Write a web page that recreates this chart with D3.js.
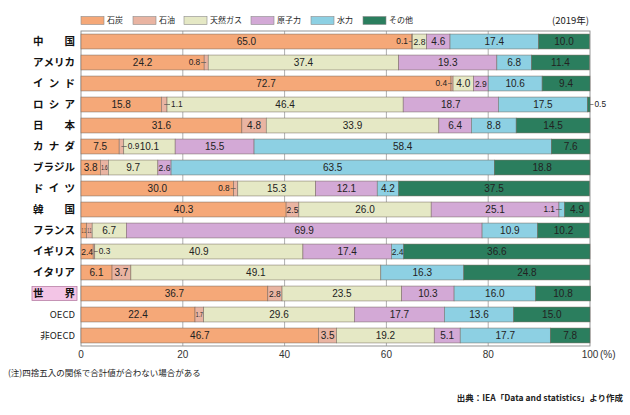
<!DOCTYPE html>
<html><head><meta charset="utf-8">
<script src="https://cdn.jsdelivr.net/npm/d3@7"></script>
<style>
html,body{margin:0;padding:0;background:#fff;}
svg{display:block;}
</style></head>
<body>
<svg id="chart" width="630" height="415"></svg>
<script>
const categories = ["中国","アメリカ","インド","ロシア","日本","カナダ","ブラジル","ドイツ","韓国","フランス","イギリス","イタリア","世界","OECD","非OECD"];
const seriesNames = ["石炭","石油","天然ガス","原子力","水力","その他"];
const coal    = [65.0, 24.2, 72.7, 15.8, 31.6,  7.5,  3.8, 30.0, 40.3,  1.1,  2.4,  6.1, 36.7, 22.4, 46.7];
const oil     = [ 0.1,  0.8,  0.4,  1.1,  4.8,  0.9,  1.6,  0.8,  2.5,  1.1,  0.3,  3.7,  2.8,  1.7,  3.5];
const gas     = [ 2.8, 37.4,  4.0, 46.4, 33.9, 10.1,  9.7, 15.3, 26.0,  6.7, 40.9, 49.1, 23.5, 29.6, 19.2];
const nuclear = [ 4.6, 19.3,  2.9, 18.7,  6.4, 15.5,  2.6, 12.1, 25.1, 69.9, 17.4,  0.0, 10.3, 17.7,  5.1];
const hydro   = [17.4,  6.8, 10.6, 17.5,  8.8, 58.4, 63.5,  4.2,  1.1, 10.9,  2.4, 16.3, 16.0, 13.6, 17.7];
const other   = [10.0, 11.4,  9.4,  0.5, 14.5,  7.6, 18.8, 37.5,  4.9, 10.2, 36.6, 24.8, 10.8, 15.0,  7.8];
const xTicks = [0, 20, 40, 60, 80, 100];
// label placement exceptions for narrow segments
const labelModes = [
  ["中国","石油","left"], ["アメリカ","石油","left"], ["インド","石油","left"],
  ["ロシア","石油","right"], ["ロシア","その他","outside"], ["カナダ","石油","right"],
  ["ドイツ","石油","left"], ["韓国","水力","left"], ["イギリス","石油","right"],
  ["ブラジル","石油","tiny"], ["フランス","石炭","tiny"], ["フランス","石油","tiny"], ["OECD","石油","tiny"]
];
const colors = ["#F5A878","#E9B4A2","#E5E8C5","#D3A9D6","#8DD0E3","#2B7E5E"];
const yearLabel = "(2019年)";
const noteText = "(注)四捨五入の関係で合計値が合わない場合がある";
const sourceText = "出典：IEA「Data and statistics」より作成";

const seriesValues = [coal, oil, gas, nuclear, hydro, other];
const rows = categories.map((c, i) => {
  const o = {cat: c};
  seriesNames.forEach((s, j) => o[s] = seriesValues[j][i]);
  return o;
});
const modeMap = new Map(labelModes.map(d => [d[0] + "|" + d[1], d[2]]));

const svg = d3.select("#chart");
const NUM = "'Liberation Sans', Arial, 'Noto Sans CJK JP', sans-serif";
const JP = "'Noto Sans CJK JP', sans-serif";
const pLeft = 81, pRight = 590, pTop = 31, pBottom = 346;

const x = d3.scaleLinear().domain([0, 100]).range([pLeft, pRight]);
const y = d3.scaleBand().domain(categories).range([pTop, pBottom]).paddingInner(0.29).paddingOuter(0.145);
const color = d3.scaleOrdinal().domain(seriesNames).range(colors);

// grid
svg.append("g").selectAll("line").data(xTicks.filter(t => t > 0 && t < 100)).join("line")
  .attr("x1", d => x(d)).attr("x2", d => x(d)).attr("y1", pTop).attr("y2", pBottom)
  .attr("stroke", "#9a9a9a").attr("stroke-width", 0.8);
svg.append("rect").attr("x", pLeft).attr("y", pTop).attr("width", pRight - pLeft).attr("height", pBottom - pTop)
  .attr("fill", "none").attr("stroke", "#8a8a8a").attr("stroke-width", 0.9);

// bars
const stack = d3.stack().keys(seriesNames)(rows);
const g = svg.append("g");
stack.forEach(layer => {
  const key = layer.key;
  g.append("g").selectAll("rect").data(layer.filter(d => d[1] - d[0] > 0)).join("rect")
    .attr("x", d => x(d[0])).attr("y", d => y(d.data.cat))
    .attr("width", d => x(d[1]) - x(d[0])).attr("height", y.bandwidth())
    .attr("fill", color(key)).attr("stroke", "#6f6258").attr("stroke-width", 0.6).attr("stroke-opacity", 0.8);
});

// value labels
const lab = svg.append("g").attr("font-family", NUM).attr("fill", "#222");
stack.forEach(layer => {
  const key = layer.key;
  layer.forEach(d => {
    const v = d[1] - d[0];
    if (v <= 0) return;
    const cat = d.data.cat;
    const x0 = x(d[0]), x1 = x(d[1]), w = x1 - x0;
    const cy = y(cat) + y.bandwidth() / 2;
    const txt = v.toFixed(1);
    const mode = modeMap.get(cat + "|" + key) || "inside";
    if (mode === "inside") {
      const fs = v >= 3.4 ? 10 : 8.5;
      lab.append("text").attr("x", (x0 + x1) / 2).attr("y", cy).attr("dy", "0.36em")
        .attr("text-anchor", "middle").attr("font-size", fs).text(txt);
    } else if (mode === "tiny") {
      const cx = (x0 + x1) / 2;
      const t = lab.append("text").attr("x", 0).attr("y", 0).attr("dy", "0.36em")
        .attr("text-anchor", "middle").attr("font-size", 6.5).text(txt);
      const nat = t.node().getComputedTextLength() || 8;
      const sx = Math.min(1, (w - 1.6) / nat);
      t.attr("transform", `translate(${cx},${cy}) scale(${sx},1)`);
    } else if (mode === "left") {
      lab.append("line").attr("x1", x0 - 3).attr("x2", x0 + w / 2).attr("y1", cy).attr("y2", cy)
        .attr("stroke", "#555").attr("stroke-width", 0.7);
      lab.append("text").attr("x", x0 - 4).attr("y", cy).attr("dy", "0.36em")
        .attr("text-anchor", "end").attr("font-size", 8.3).text(txt);
    } else if (mode === "right") {
      lab.append("line").attr("x1", x0 + w / 2).attr("x2", x1 + 3).attr("y1", cy).attr("y2", cy)
        .attr("stroke", "#555").attr("stroke-width", 0.7);
      lab.append("text").attr("x", x1 + 4).attr("y", cy).attr("dy", "0.36em")
        .attr("text-anchor", "start").attr("font-size", 8.3).text(txt);
    } else if (mode === "outside") {
      lab.append("line").attr("x1", x1).attr("x2", x1 + 3.5).attr("y1", cy).attr("y2", cy)
        .attr("stroke", "#555").attr("stroke-width", 0.7);
      lab.append("text").attr("x", x1 + 4.5).attr("y", cy).attr("dy", "0.36em")
        .attr("text-anchor", "start").attr("font-size", 8.3).text(txt);
    }
  });
});

// category labels
const catG = svg.append("g");
const lx0 = 33, lx1 = 75;
categories.forEach(c => {
  const cy = y(c) + y.bandwidth() / 2;
  if (c === "世界") {
    catG.append("rect").attr("x", 32).attr("y", cy - 7).attr("width", 45).attr("height", 14)
      .attr("fill", "#F3C5E6").attr("stroke", "#B97FA6").attr("stroke-width", 0.8);
  }
  if (/[A-Za-z]/.test(c)) {
    catG.append("text").attr("x", lx1).attr("y", cy).attr("dy", "0.36em").attr("text-anchor", "end")
      .attr("font-family", JP).attr("font-size", 9.5).attr("fill", "#222").text(c);
  } else {
    const chars = Array.from(c);
    const fs = 10.5;
    const a = lx0 + fs / 2, b = lx1 - fs / 2;
    chars.forEach((ch, k) => {
      const cx = chars.length === 1 ? (a + b) / 2 : a + (b - a) * k / (chars.length - 1);
      catG.append("text").attr("x", cx).attr("y", cy).attr("dy", "0.36em").attr("text-anchor", "middle")
        .attr("font-family", JP).attr("font-weight", "bold").attr("font-size", fs).attr("fill", "#111").text(ch);
    });
  }
});

// x axis labels
const ax = svg.append("g").attr("font-family", NUM).attr("font-size", 10).attr("fill", "#333");
ax.selectAll("text").data(xTicks).join("text")
  .attr("x", d => x(d)).attr("y", 354).attr("dy", "0.36em").attr("text-anchor", "middle").text(d => d);
svg.append("text").attr("x", x(100) + 10).attr("y", 354).attr("dy", "0.36em")
  .attr("font-family", NUM).attr("font-size", 10).attr("fill", "#333").text("(%)");

// legend
const legX = [81, 133, 184, 251, 311, 363];
const leg = svg.append("g");
seriesNames.forEach((s, i) => {
  leg.append("rect").attr("x", legX[i]).attr("y", 16.5).attr("width", 23).attr("height", 8)
    .attr("fill", color(s)).attr("stroke", "#8a8a8a").attr("stroke-width", 0.6);
  leg.append("text").attr("x", legX[i] + 26).attr("y", 20.5).attr("dy", "0.36em")
    .attr("font-family", JP).attr("font-size", 8).attr("fill", "#222").text(s);
});
svg.append("text").attr("x", 589).attr("y", 20.5).attr("dy", "0.36em").attr("text-anchor", "end")
  .attr("font-family", JP).attr("font-size", 9.5).attr("fill", "#222").text(yearLabel);

// notes
svg.append("text").attr("x", 8).attr("y", 373).attr("dy", "0.36em")
  .attr("font-family", JP).attr("font-size", 8.5).attr("fill", "#222").text(noteText);
svg.append("text").attr("x", 623).attr("y", 398).attr("dy", "0.36em").attr("text-anchor", "end")
  .attr("font-family", JP).attr("font-weight", "bold").attr("font-size", 8.5).attr("fill", "#222").text(sourceText);
</script>
</body></html>
